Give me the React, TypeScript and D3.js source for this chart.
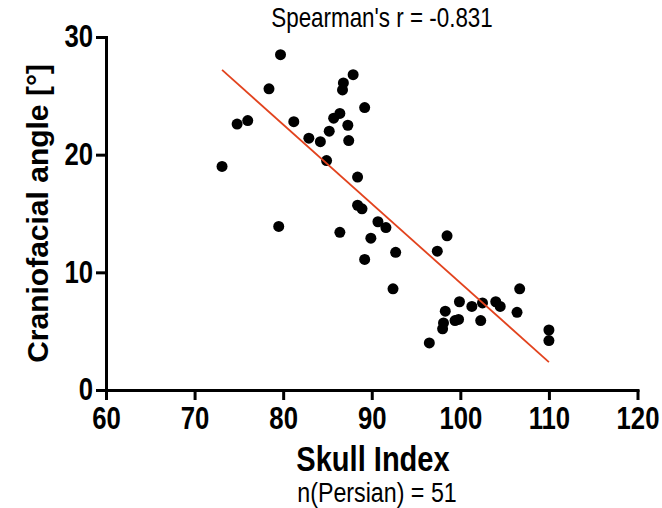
import React, { useEffect, useRef } from 'react';
import * as d3 from 'd3';

// Skull Index (x) vs craniofacial angle in degrees (y)
const skullIndex = [
  79.7, 78.4, 87.9, 86.8, 86.7, 89.2, 74.8, 76.0, 81.2, 86.4, 85.7, 87.3,
  85.2, 82.9, 84.2, 87.4, 73.1, 84.9, 88.4, 88.4, 88.9, 79.5, 86.4, 90.7,
  91.6, 89.9, 92.7, 89.2, 92.4, 98.5, 97.4, 106.7, 99.9, 101.3, 102.5, 104.0,
  104.5, 106.4, 98.3, 99.8, 99.4, 98.1, 98.0, 102.3, 96.5, 110.0, 110.0,
];
const angle = [
  28.5, 25.6, 26.8, 26.1, 25.5, 24.0, 22.6, 22.9, 22.8, 23.5, 23.1, 22.5,
  22.0, 21.4, 21.1, 21.2, 19.0, 19.5, 18.1, 15.7, 15.4, 13.9, 13.4, 14.3,
  13.8, 12.9, 11.7, 11.1, 8.6, 13.1, 11.8, 8.6, 7.5, 7.1, 7.4, 7.5,
  7.1, 6.6, 6.7, 6.0, 5.9, 5.7, 5.2, 5.9, 4.0, 5.1, 4.2,
];
const xTicks = [60, 70, 80, 90, 100, 110, 120];
const yTicks = [0, 10, 20, 30];
// fitted line
const fitIntercept = 76.4;
const fitSlope = -0.673;

const title = "Spearman's r = -0.831";
const xTitle = 'Skull Index';
const yTitle = 'Craniofacial angle [°]';
const note = 'n(Persian) = 51';

const font = '"Liberation Sans", Arial, Helvetica, sans-serif';
const squeeze = 0.83; // the figure's lettering is horizontally condensed

export default function App() {
  const ref = useRef<SVGSVGElement>(null);

  useEffect(() => {
    const width = 662, height = 508;
    const x = d3.scaleLinear().domain([60, 120]).range([106, 637.5]);
    const y = d3.scaleLinear().domain([0, 30]).range([390, 37]);

    const svg = d3.select(ref.current);
    svg.selectAll('*').remove();
    svg.attr('width', width).attr('height', height);

    // x axis
    svg.append('g')
      .attr('transform', `translate(0,${y(0)})`)
      .call(d3.axisBottom(x).tickValues(xTicks).tickSize(10).tickSizeOuter(0).tickPadding(7))
      .call(g => g.selectAll('line').attr('stroke', '#000').attr('stroke-width', 3))
      .call(g => g.select('.domain').attr('stroke', '#000').attr('stroke-width', 3).attr('stroke-linecap', 'square'))
      .call(g => g.selectAll('text')
        .attr('fill', '#000')
        .attr('transform', `scale(${squeeze},1)`)
        .style('font-family', font)
        .style('font-weight', 'bold')
        .style('font-size', '31px'));

    // y axis
    svg.append('g')
      .attr('transform', `translate(${x(60)},0)`)
      .call(d3.axisLeft(y).tickValues(yTicks).tickSize(10).tickSizeOuter(0).tickPadding(3))
      .call(g => g.selectAll('line').attr('stroke', '#000').attr('stroke-width', 3))
      .call(g => g.select('.domain').attr('stroke', '#000').attr('stroke-width', 3).attr('stroke-linecap', 'square'))
      .call(g => g.selectAll('text')
        .attr('fill', '#000')
        .attr('x', 0)
        .attr('transform', `translate(-13,0) scale(${squeeze},1)`)
        .style('font-family', font)
        .style('font-weight', 'bold')
        .style('font-size', '31px'));

    // points
    svg.append('g')
      .selectAll('circle')
      .data(skullIndex.map((d, i) => ({ sx: d, a: angle[i] })))
      .join('circle')
      .attr('cx', d => x(d.sx))
      .attr('cy', d => y(d.a))
      .attr('r', 5.5)
      .attr('fill', '#000');

    // regression line over the range of the data
    const [x0, x1] = d3.extent(skullIndex) as [number, number];
    svg.append('path')
      .datum([x0, x1])
      .attr('fill', 'none')
      .attr('stroke', '#e2431e')
      .attr('stroke-width', 1.8)
      .attr('d', d3.line<number>().x(d => x(d)).y(d => y(fitIntercept + fitSlope * d)));

    // texts
    const label = (tx: number, ty: number, text: string, size: number, bold: boolean) =>
      svg.append('text')
        .attr('transform', `translate(${tx},${ty}) scale(${squeeze},1)`)
        .attr('text-anchor', 'middle')
        .style('font-family', font)
        .style('font-weight', bold ? 'bold' : 'normal')
        .style('font-size', `${size}px`)
        .text(text);

    label(382, 27, title, 27, false);
    label(373, 471, xTitle, 35, true);
    label(377, 502, note, 28, false);

    svg.append('text')
      .attr('transform', `translate(48,${(37 + 390) / 2}) rotate(-90)`)
      .attr('text-anchor', 'middle')
      .style('font-family', font)
      .style('font-weight', 'bold')
      .style('font-size', '30px')
      .text(yTitle);
  }, []);

  return (
    <svg ref={ref} style={{ position: 'absolute', left: 0, top: 0, display: 'block' }} />
  );
}
